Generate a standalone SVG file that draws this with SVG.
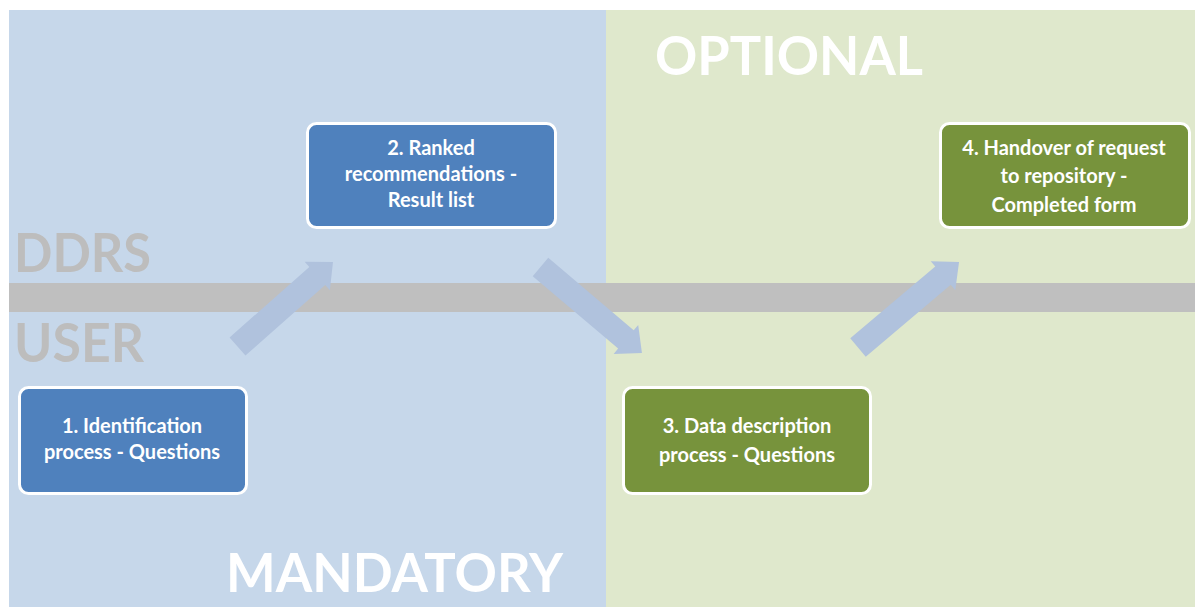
<svg xmlns="http://www.w3.org/2000/svg" width="1195" height="607" viewBox="0 0 1195 607">
<defs>
<style>
.lbl{font-family:Lato,"Open Sans","Liberation Sans",sans-serif;font-weight:bold;fill:#ffffff;font-size:20px;text-anchor:middle}
.big{font-family:Lato,"Open Sans","Liberation Sans",sans-serif;font-weight:bold;font-size:54px}
.box{stroke:#ffffff;stroke-width:3}
.arrow{fill:#b0c2dd}
</style>
</defs>
<rect x="0" y="0" width="1195" height="607" fill="#ffffff"/>
<rect x="9" y="10" width="597" height="597" fill="#c6d7ea"/>
<rect x="606" y="10" width="589" height="597" fill="#dfe8cc"/>
<rect x="9" y="283" width="1186" height="29" fill="#bfbfbf"/>
<text class="big" x="14" y="272" fill="#bdbdbd" textLength="137" lengthAdjust="spacingAndGlyphs">DDRS</text>
<text class="big" x="14" y="362" fill="#bdbdbd" textLength="130" lengthAdjust="spacingAndGlyphs">USER</text>
<g id="connectors">
<path class="arrow" transform="translate(237.5,346.5) rotate(-41.5)" d="M0,-12 L106.5,-12 L106.5,-19 L127.5,0 L106.5,19 L106.5,12 L0,12 Z"/>
<path class="arrow" transform="translate(540.5,267) rotate(40.3)" d="M0,-12 L112,-12 L112,-19 L133,0 L112,19 L112,12 L0,12 Z"/>
<path class="arrow" transform="translate(858,347.5) rotate(-40.2)" d="M0,-12 L111.3,-12 L111.3,-19 L132.3,0 L111.3,19 L111.3,12 L0,12 Z"/>
</g>
<g id="node1">
<rect class="box" x="19.5" y="387.5" width="227" height="106" rx="9" fill="#4f81bd"/>
<text class="lbl" x="132" y="433">1. Identification</text>
<text class="lbl" x="132" y="459">process - Questions</text>
</g>
<g id="node2">
<rect class="box" x="307.5" y="123.5" width="248" height="104" rx="9" fill="#4f81bd"/>
<text class="lbl" x="431" y="155">2. Ranked</text>
<text class="lbl" x="431" y="181">recommendations -</text>
<text class="lbl" x="431" y="207">Result list</text>
</g>
<g id="node3">
<rect class="box" x="623.5" y="387.5" width="247" height="106" rx="9" fill="#77933c"/>
<text class="lbl" x="747" y="433">3. Data description</text>
<text class="lbl" x="747" y="462">process - Questions</text>
</g>
<g id="node4">
<rect class="box" x="940.5" y="123.5" width="249" height="104" rx="9" fill="#77933c"/>
<text class="lbl" x="1064" y="155">4. Handover of request</text>
<text class="lbl" x="1064" y="183">to repository  -</text>
<text class="lbl" x="1064" y="212">Completed form</text>
</g>
<text class="big" x="226" y="592" fill="#ffffff" textLength="337" lengthAdjust="spacingAndGlyphs">MANDATORY</text>
<text class="big" x="655" y="75" fill="#ffffff" textLength="268" lengthAdjust="spacingAndGlyphs">OPTIONAL</text>
</svg>
